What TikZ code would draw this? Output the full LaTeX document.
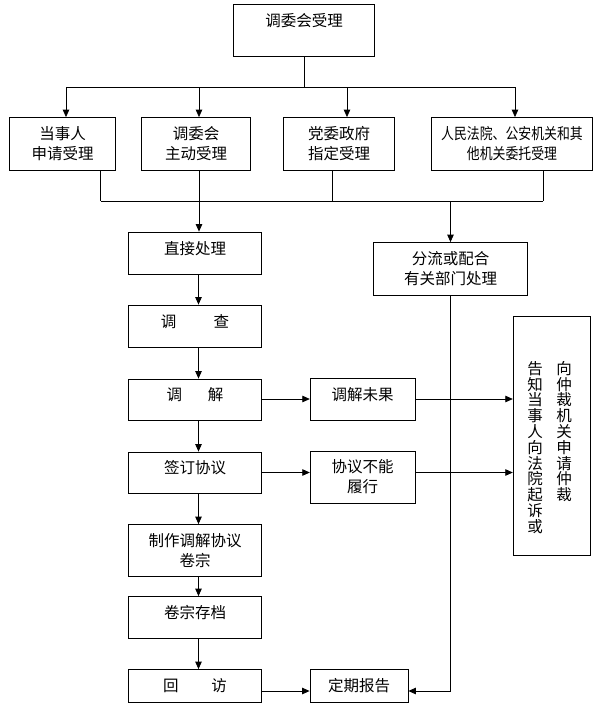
\documentclass[tikz,border=0pt]{standalone}
\usepackage{fontspec}
\setmainfont{Noto Sans CJK SC}
\newfontfamily\narrowcjk[FakeStretch=0.83]{Noto Sans CJK SC}
\usetikzlibrary{arrows.meta,positioning}
\tikzstyle{bx} = [rectangle, draw, line width=0.8pt, inner sep=0pt,
    align=center, font=\fontsize{15.5}{20}\selectfont]
\tikzstyle{lft} = [bx, minimum width=133pt, minimum height=42pt]
\tikzstyle{one} = [text height=12pt, text depth=10pt]
\tikzstyle{ln} = [line width=0.8pt]
\tikzstyle{arr} = [ln, -{Triangle[length=7.5pt,width=6.5pt]}]
\tikzstyle{col} = [inner sep=0pt, align=center, font=\fontsize{15.5}{15.8}\selectfont]

\begin{document}
\begin{tikzpicture}[x=1pt, y=1pt, node distance=73pt]
  \useasboundingbox (0,0) rectangle (597,-707);
  \node[bx,minimum width=141pt,minimum height=52pt,text height=12pt,text depth=20pt] (top) at (304,-30) {调委会受理};

  \node[bx,minimum width=106pt,minimum height=53pt] (dsr) at (62.5,-144) {当事人\\申请受理};
  \node[bx,minimum width=109pt,minimum height=53pt] (twh) at (196,-144) {调委会\\主动受理};
  \node[bx,minimum width=111pt,minimum height=53pt] (dwz) at (339,-144) {党委政府\\指定受理};
  \node[bx,minimum width=161pt,minimum height=53pt,font=\narrowcjk\fontsize{15.5}{20}\selectfont] (fy) at (512,-144) {人民法院、公安机关和其\\他机关委托受理};

  % left column
  \node[lft,one] (zj) at (195,-253) {直接处理};
  \node[lft,one] (dc) [below of=zj] {调\hspace{2.4em}查};
  \node[lft,one,minimum height=41pt] (tj) [below of=dc,yshift=-0.5pt] {调\hspace{1.65em}解};
  \node[lft,one,minimum height=41pt] (qd) [below of=tj] {签订协议};
  \node[lft,minimum height=52pt] (zz) [below of=qd,yshift=-5pt] {制作调解协议\\卷宗};
  \node[lft,one] (jz) [below of=zz,yshift=6pt] {卷宗存档};
  \node[lft,minimum height=33pt] (hf) [below of=jz,yshift=4.5pt] {回\hspace{2.1em}访};

  % middle and right
  \node[bx,minimum width=154pt,minimum height=53pt] (fl) at (450.5,-269) {分流或配合\\有关部门处理};
  \node[bx,one,minimum width=105pt,minimum height=42pt] (wg) at (362.7,-399) {调解未果};
  \node[bx,minimum width=105pt,minimum height=52pt] (bn) at (362.7,-477) {协议不能\\履行};
  \node[bx,minimum width=98pt,minimum height=33pt] (dq) at (359,-686) {定期报告};
  \node[bx,minimum width=77pt,minimum height=239pt] (fs) at (551.7,-435.5) {};
  \node[col] (fsl) at (535,-447.5) {告\\知\\当\\事\\人\\向\\法\\院\\起\\诉\\或};
  \node[col] (fsr) at (564,-431.5) {向\\仲\\裁\\机\\关\\申\\请\\仲\\裁};

  % connectors
  \coordinate (hub) at (304,-87);
  \draw[ln] (top) -- (hub);
  \foreach \x/\n [count=\i] in {66/dsr,199/twh,347/dwz,515/fy} {
    \coordinate (h\i) at (\x,-87);
    \draw[arr] (h\i) -- (h\i |- \n.north);
  }
  \draw[ln] (h1) -- (h4);
  \foreach \x/\n [count=\i] in {100.5/dsr,199/twh,332.5/dwz,543/fy} {
    \coordinate (b\i) at (\x,-201);
    \draw[ln] (b\i |- \n.south) -- (b\i);
  }
  \draw[ln] (b1) -- (b4);
  \draw[arr] (b2) -- (b2 |- zj.north);
  \draw[arr] (fl.north |- b1) -- (fl.north);

  \foreach \a/\b in {zj/dc,dc/tj,tj/qd,qd/zz,zz/jz,jz/hf}
    \draw[arr] ([xshift=3.5pt]\a.south) -- ([xshift=3.5pt]\b.north);

  \draw[arr] (tj.east |- wg) -- (wg.west);
  \draw[arr] (qd.east) -- (qd.east -| bn.west);
  \draw[arr] (wg.east) -- (wg.east -| fs.west);
  \draw[arr] (qd.east -| bn.east) -- (qd.east -| fs.west);
  \coordinate (rv) at ([yshift=-5pt]hf.east);
  \draw[arr] (rv) -- (rv -| dq.west);
  \draw[arr] (fl.south) |- (rv -| dq.east);
\end{tikzpicture}
\end{document}
